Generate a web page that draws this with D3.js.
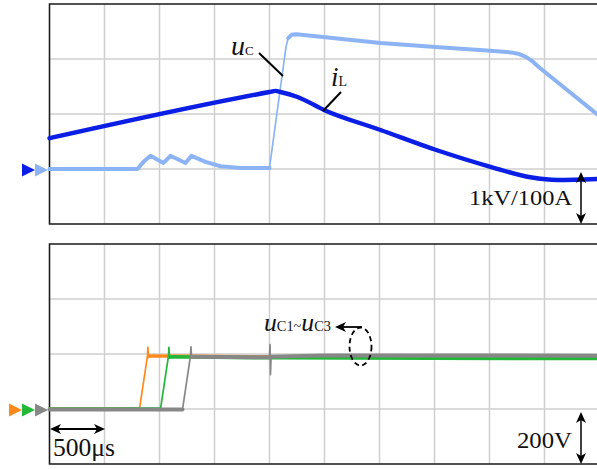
<!DOCTYPE html>
<meta charset="utf-8">
<style>
  body { margin: 0; background: #fff; }
</style>
<body>
<script src="https://d3js.org/d3.v7.min.js"></script>
<script>
// time in microseconds, 500us per division
var timeTicks = d3.range(0, 5001, 500);

// upper panel: uC in kV (1kV/div), iL in A (100A/div)
var uC = [[0,0],[800,0],[855,0.13],[918,0.24],[1036,0.11],[1100,0.24],[1236,0.11],[1291,0.24],
          [1418,0.13],[1555,0.05],[1736,0.02],[2000,0.02],[2150,2.22],[2170,2.38],[2200,2.44],[2245,2.45],
          [3009,2.29],[3509,2.22],[4009,2.15],[4191,2.12],[4270,2.09],[4330,2.04],[4390,1.96],[4450,1.85],[5000,0.96]];
var iL = [[0,56],[2000,140],[2055,142],[2100,140],[2255,131],[2500,107],[3009,71],[3509,35],
          [4009,4],[4373,-15],[4618,-20],[5000,-18]];

// lower panel: capacitor voltages in V (200V/div)
var uC1 = [[0,0],[818,0],[891,194],[895,224],[900,190],[910,193],[1300,192],[2000,190],[5000,192]];
var uC2 = [[0,0],[1009,0],[1082,194],[1086,224],[1091,188],[1100,190],[2000,186],[5000,183]];
var uC3 = [[0,-2],[1209,-2],[1282,194],[1286,226],[1291,190],[1300,190],[2000,188],[2005,234],
           [2009,125],[2014,190],[2500,195],[5000,194]];

var width = 597, height = 469;
var serif = "'Liberation Serif', 'Times New Roman', 'DejaVu Serif', serif";

var svg = d3.select("body").append("svg")
    .attr("width", width)
    .attr("height", height)
    .attr("font-family", serif);

var x = d3.scaleLinear().domain([0, 5000]).range([49.5, 599.5]);

var top_kV = d3.scaleLinear().domain([-1, 3]).range([224, 4]);
var top_A = d3.scaleLinear().domain([-100, 300]).range([224, 4]);
var bot_V = d3.scaleLinear().domain([-200, 600]).range([464, 244]);

function drawPanel(yScale, ticks) {
  var g = svg.append("g");
  var y0 = yScale.range()[0], y1 = yScale.range()[1];
  g.selectAll(".vg").data(timeTicks).enter().append("line")
    .attr("x1", x).attr("x2", x)
    .attr("y1", y1).attr("y2", y0)
    .attr("stroke", "#cfcfcf").attr("stroke-width", 1.5);
  g.selectAll(".hg").data(ticks).enter().append("line")
    .attr("x1", x(0)).attr("x2", x(5000))
    .attr("y1", yScale).attr("y2", yScale)
    .attr("stroke", "#cfcfcf").attr("stroke-width", 1.5);
  g.append("path")
    .attr("d", "M" + x(5000) + "," + y1 + "H" + x(0) + "V" + y0 + "H" + x(5000))
    .attr("fill", "none").attr("stroke", "#1a1a1a").attr("stroke-width", 1.5);
}

drawPanel(top_kV, [0, 1, 2]);
drawPanel(bot_V, [0, 200, 400]);

// draw a trace; steep edges come out thin like on the scope screen
function trace(data, yScale, color, w, curve) {
  var pts = data.map(function(d) { return [x(d[0]), yScale(d[1])]; });
  var runs = [], cur = null;
  for (var i = 1; i < pts.length; i++) {
    var dx = pts[i][0] - pts[i-1][0], dy = pts[i][1] - pts[i-1][1];
    var steep = Math.abs(dy) > 2.5 * Math.abs(dx) && Math.abs(dy) > 3;
    if (!cur || cur.steep !== steep) {
      cur = {steep: steep, pts: [pts[i-1]]};
      runs.push(cur);
    }
    cur.pts.push(pts[i]);
  }
  var line = d3.line().curve(curve || d3.curveLinear);
  runs.forEach(function(r) {
    svg.append("path")
      .attr("d", line(r.pts))
      .attr("fill", "none")
      .attr("stroke", color)
      .attr("stroke-width", r.steep ? 1.7 : w)
      .attr("stroke-linejoin", "round")
      .attr("stroke-linecap", "round");
  });
}

trace(uC, top_kV, "#8cb4f5", 4);
trace(iL, top_A, "#0a1ee6", 4.4, d3.curveMonotoneX);

trace(uC1, bot_V, "#ff8a1c", 3.4);
trace(uC2, bot_V, "#22b83a", 3.4);
trace(uC3, bot_V, "#878787", 4);

// ground markers
function marker(xr, yc, color) {
  svg.append("path")
    .attr("d", "M" + xr + "," + yc + "l-13,-6.5v13z")
    .attr("fill", color);
}
marker(35, top_A(0) + 1, "#0a1ee6");
marker(48, top_kV(0) + 1, "#8cb4f5");
marker(22, bot_V(0) + 1, "#ff8a1c");
marker(35, bot_V(0) + 1, "#22b83a");
marker(48, bot_V(0) + 1, "#878787");

// arrow heads
function head(px, py, angle) {
  svg.append("path")
    .attr("d", "M0,0L-5,11L0,8L5,11Z")
    .attr("transform", "translate(" + px + "," + py + ")rotate(" + angle + ")")
    .attr("fill", "#000");
}
function dblArrowV(px, ya, yb) {
  svg.append("line").attr("x1", px).attr("x2", px).attr("y1", ya + 4).attr("y2", yb - 4)
    .attr("stroke", "#000").attr("stroke-width", 1.5);
  head(px, ya, 0);
  head(px, yb, 180);
}
dblArrowV(581, 172, 224);
dblArrowV(581, 412, 464);

svg.append("line").attr("x1", 54).attr("x2", 101).attr("y1", 429).attr("y2", 429)
  .attr("stroke", "#000").attr("stroke-width", 1.8);
head(50, 429, -90);
head(105, 429, 90);

// scale texts
svg.append("text").attr("x", 469).attr("y", 205).attr("font-size", 22).attr("fill", "#111")
  .attr("textLength", 103).attr("lengthAdjust", "spacingAndGlyphs").text("1kV/100A");
svg.append("text").attr("x", 517).attr("y", 448).attr("font-size", 23).attr("fill", "#111")
  .attr("textLength", 55).attr("lengthAdjust", "spacingAndGlyphs").text("200V");
svg.append("text").attr("x", 53).attr("y", 456).attr("font-size", 25).attr("fill", "#111")
  .attr("textLength", 62).attr("lengthAdjust", "spacingAndGlyphs").text("500μs");

// trace labels
var t1 = svg.append("text").attr("x", 231).attr("y", 55).attr("fill", "#111");
t1.append("tspan").attr("font-size", 28).attr("font-style", "italic").text("u");
t1.append("tspan").attr("font-size", 13).text("C");
svg.append("line").attr("x1", 259).attr("y1", 53).attr("x2", 283).attr("y2", 76)
  .attr("stroke", "#000").attr("stroke-width", 2);

var t2 = svg.append("text").attr("x", 331).attr("y", 86).attr("fill", "#111");
t2.append("tspan").attr("font-size", 27).attr("font-style", "italic").text("i");
t2.append("tspan").attr("font-size", 14).text("L");
svg.append("line").attr("x1", 341).attr("y1", 92).attr("x2", 323).attr("y2", 111)
  .attr("stroke", "#000").attr("stroke-width", 2);

var t3 = svg.append("text").attr("x", 264).attr("y", 331).attr("fill", "#111")
  .attr("textLength", 67).attr("lengthAdjust", "spacingAndGlyphs");
t3.append("tspan").attr("font-size", 25).attr("font-style", "italic").text("u");
t3.append("tspan").attr("font-size", 14).text("C1~");
t3.append("tspan").attr("font-size", 25).attr("font-style", "italic").text("u");
t3.append("tspan").attr("font-size", 14).text("C3");

svg.append("line").attr("x1", 362).attr("y1", 327).attr("x2", 343).attr("y2", 327)
  .attr("stroke", "#000").attr("stroke-width", 1.8);
head(335, 327, -90);
svg.append("ellipse").attr("cx", 360.5).attr("cy", 346.5).attr("rx", 11).attr("ry", 19)
  .attr("fill", "none").attr("stroke", "#000").attr("stroke-width", 1.8)
  .attr("stroke-dasharray", "5,3.5");
</script>
</body>
